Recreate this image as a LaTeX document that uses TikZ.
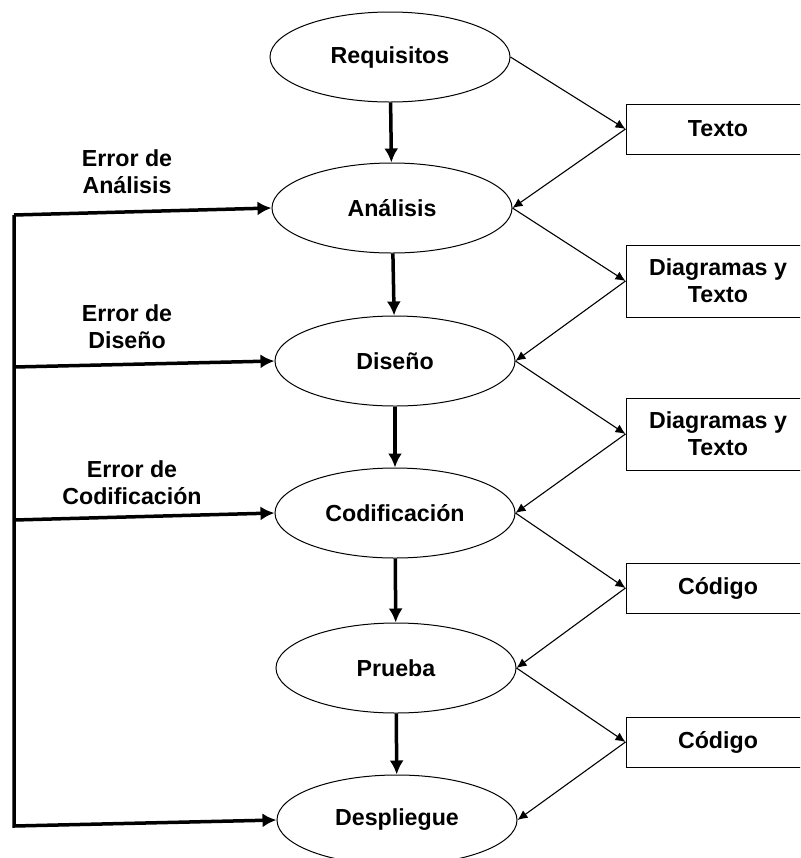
\documentclass[tikz,border=0pt]{standalone}
\usepackage{fontspec}
\setmainfont{Liberation Sans}
\usetikzlibrary{shapes.geometric, arrows.meta}

\begin{document}
\begin{tikzpicture}[x=0.5pt, y=-0.5pt,
  schrift/.style={font=\bfseries\fontsize{11.6}{13.5}\selectfont},
  phase/.style={schrift, ellipse, draw, line width=0.5pt, minimum width=120pt, minimum height=45pt, inner sep=0pt},
  ergebnis/.style={schrift, rectangle, draw, line width=0.5pt, minimum width=92pt, minimum height=25pt, align=center},
  fehler/.style={schrift, align=center},
  fluss/.style={-{Latex[length=7pt, width=7pt]}, line width=1.75pt, line join=miter},
  doku/.style={-{Latex[length=5pt, width=4.5pt]}, line width=0.55pt}]
\clip (0,0) rectangle (800,858);

% Phasen
\node[phase] (req) at (390,57) {Requisitos};
\node[phase] (ana) at (392,208) {Análisis};
\node[phase] (dis) at (395,361) {Diseño};
\node[phase] (cod) at (395,513) {Codificación};
\node[phase] (pru) at (396,668) {Prueba};
\node[phase] (des) at (397,820) {Despliegue};

% Ergebnisse (rechter Rand liegt ausserhalb des Bildes)
\node[ergebnis] (texto) at (718,129) {Texto};
\node[ergebnis, minimum height=36pt] (diag1) at (718,281) {Diagramas y\\Texto};
\node[ergebnis, minimum height=36pt] (diag2) at (718,434) {Diagramas y\\Texto};
\node[ergebnis] (cod1) at (718,588) {Código};
\node[ergebnis] (cod2) at (718,742) {Código};

% Ablauf
\draw[fluss] (req) -- (ana);
\draw[fluss] (ana) -- (dis);
\draw[fluss] (dis) -- (cod);
\draw[fluss] (cod) -- (pru);
\draw[fluss] (pru) -- (des);

% Dokumente hin und zurueck
\foreach \a/\b/\c in {req/texto/ana, ana/diag1/dis, dis/diag2/cod, cod/cod1/pru, pru/cod2/des}
{
  \draw[doku] (\a.east) -- (\b.west);
  \draw[doku] (\b.west) -- (\c.east);
}

% Rueckfuehrung bei Fehlern
\coordinate (r1) at (14,215);
\coordinate (r2) at (14,367);
\coordinate (r3) at (14,520);
\coordinate (r4) at (14,826);
\draw[fluss] (r1) -- (r4) -- (des.west);
\foreach \k/\z in {r1/ana, r2/dis, r3/cod}
  \draw[fluss] (\k) -- (\z.west);

\node[fehler] (f1) at (127,172) {Error de\\Análisis};
\node[fehler] (f2) at (127,327) {Error de\\Diseño};
\node[fehler] (f3) at (132,483) {Error de\\Codificación};
\end{tikzpicture}
\end{document}
